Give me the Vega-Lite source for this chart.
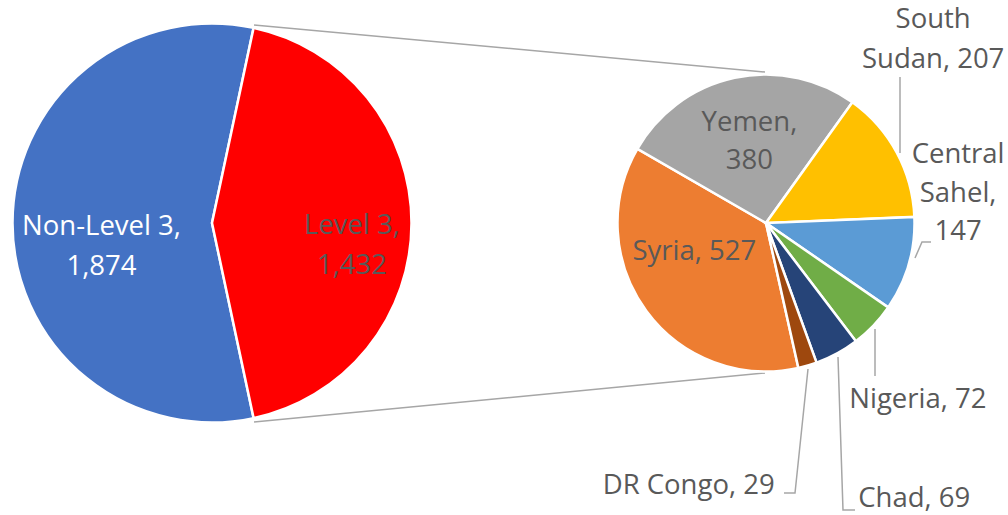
{
  "$schema": "https://vega.github.io/schema/vega-lite/v6.json",
  "width": 1008,
  "height": 515,
  "autosize": "none",
  "padding": 0,
  "config": {"view": {"stroke": null}},
  "data": {
    "values": [
      {"pie": "Total", "name": "Non-Level 3", "value": 1874, "label": "Non-Level 3,\n1,874"},
      {"pie": "Total", "name": "Level 3", "value": 1432, "label": "Level 3,\n1,432"},
      {"pie": "Level 3", "name": "Syria", "value": 527, "label": "Syria, 527"},
      {"pie": "Level 3", "name": "Yemen", "value": 380, "label": "Yemen,\n380"},
      {"pie": "Level 3", "name": "South Sudan", "value": 207, "label": "South\nSudan, 207"},
      {"pie": "Level 3", "name": "Central Sahel", "value": 147, "label": "Central\nSahel,\n147"},
      {"pie": "Level 3", "name": "Nigeria", "value": 72, "label": "Nigeria, 72"},
      {"pie": "Level 3", "name": "Chad", "value": 69, "label": "Chad, 69"},
      {"pie": "Level 3", "name": "DR Congo", "value": 29, "label": "DR Congo, 29"}
    ]
  },
  "resolve": {"scale": {"x": "independent", "y": "independent", "theta": "independent"}},
  "layer": [
    {
      "data": {
        "values": [
          {"seg": "connector top", "k": 1, "gx": 254, "gy": 25},
          {"seg": "connector top", "k": 2, "gx": 765, "gy": 72},
          {"seg": "connector bottom", "k": 1, "gx": 254, "gy": 422},
          {"seg": "connector bottom", "k": 2, "gx": 765, "gy": 373},
          {"seg": "South Sudan", "k": 1, "gx": 900, "gy": 153},
          {"seg": "South Sudan", "k": 2, "gx": 900, "gy": 77},
          {"seg": "Central Sahel", "k": 1, "gx": 915, "gy": 258},
          {"seg": "Central Sahel", "k": 2, "gx": 922, "gy": 242},
          {"seg": "Central Sahel", "k": 3, "gx": 931, "gy": 242},
          {"seg": "Nigeria", "k": 1, "gx": 875, "gy": 329},
          {"seg": "Nigeria", "k": 2, "gx": 875, "gy": 376},
          {"seg": "Chad", "k": 1, "gx": 838, "gy": 357},
          {"seg": "Chad", "k": 2, "gx": 843, "gy": 510},
          {"seg": "Chad", "k": 3, "gx": 855, "gy": 510},
          {"seg": "DR Congo", "k": 1, "gx": 808, "gy": 369},
          {"seg": "DR Congo", "k": 2, "gx": 795, "gy": 493},
          {"seg": "DR Congo", "k": 3, "gx": 784, "gy": 493}
        ]
      },
      "mark": {"type": "line", "stroke": "#A6A6A6", "strokeWidth": 1.5},
      "encoding": {
        "x": {"field": "gx", "type": "quantitative", "scale": {"domain": [0, 1008], "range": [0, 1008]}, "axis": null},
        "y": {"field": "gy", "type": "quantitative", "scale": {"domain": [0, 515], "range": [0, 515]}, "axis": null},
        "detail": {"field": "seg"},
        "order": {"field": "k"}
      }
    },
    {
      "transform": [{"filter": "datum.pie === 'Total'"}],
      "encoding": {
        "x": {"field": "pie", "type": "nominal", "scale": {"type": "point", "domain": ["Total", "Level 3"], "range": [212, 766], "padding": 0}, "axis": null},
        "y": {"field": "pie", "type": "nominal", "scale": {"type": "point", "domain": ["Total", "Level 3"], "range": [223, 223], "padding": 0}, "axis": null},
        "theta": {"field": "value", "type": "quantitative", "stack": true, "scale": {"range": [0.20996, 6.49315]}},
        "order": {"field": "value", "sort": "ascending"}
      },
      "layer": [
        {
          "mark": {"type": "arc", "radius": 199.5, "stroke": "white", "strokeWidth": 2.5},
          "encoding": {
            "color": {"field": "name", "type": "nominal", "legend": null,
              "scale": {"domain": ["Non-Level 3", "Level 3", "Syria", "Yemen", "South Sudan", "Central Sahel", "Nigeria", "Chad", "DR Congo"],
                        "range": ["#4472C4", "#FF0000", "#ED7D31", "#A5A5A5", "#FFC000", "#5B9BD5", "#70AD47", "#264478", "#9E480E"]}}
          }
        },
        {
          "mark": {"type": "text", "radius": 110.5, "dy": 3.5, "font": "Open Sans", "fontSize": 27.5, "lineHeight": 40, "lineBreak": "\n", "color": "#FFFFFF", "align": "center", "baseline": "middle"},
          "encoding": {
            "detail": {"field": "name"},
            "text": {"condition": {"test": "datum.name === 'Non-Level 3'", "field": "label", "type": "nominal"}, "value": ""}
          }
        },
        {
          "mark": {"type": "text", "radius": 140, "dy": 3.5, "font": "Open Sans", "fontSize": 27.5, "lineHeight": 40, "lineBreak": "\n", "color": "#595959", "align": "center", "baseline": "middle"},
          "encoding": {
            "detail": {"field": "name"},
            "text": {"condition": {"test": "datum.name === 'Level 3'", "field": "label", "type": "nominal"}, "value": ""}
          }
        }
      ]
    },
    {
      "transform": [{"filter": "datum.pie === 'Level 3'"}],
      "encoding": {
        "x": {"field": "pie", "type": "nominal", "scale": {"type": "point", "domain": ["Total", "Level 3"], "range": [212, 766], "padding": 0}, "axis": null},
        "y": {"field": "pie", "type": "nominal", "scale": {"type": "point", "domain": ["Total", "Level 3"], "range": [223, 223], "padding": 0}, "axis": null},
        "theta": {"field": "value", "type": "quantitative", "stack": true, "scale": {"range": [2.92168, 9.20487]}},
        "order": {"field": "value", "sort": "descending"}
      },
      "layer": [
        {
          "mark": {"type": "arc", "radius": 148.5, "stroke": "white", "strokeWidth": 2.5},
          "encoding": {
            "color": {"field": "name", "type": "nominal", "legend": null,
              "scale": {"domain": ["Non-Level 3", "Level 3", "Syria", "Yemen", "South Sudan", "Central Sahel", "Nigeria", "Chad", "DR Congo"],
                        "range": ["#4472C4", "#FF0000", "#ED7D31", "#A5A5A5", "#FFC000", "#5B9BD5", "#70AD47", "#264478", "#9E480E"]}}
          }
        },
        {
          "mark": {"type": "text", "radius": 83, "dx": 1, "dy": -19, "font": "Open Sans", "fontSize": 27.5, "lineHeight": 38, "lineBreak": "\n", "color": "#595959", "align": "center", "baseline": "middle"},
          "encoding": {"detail": {"field": "name"}, "text": {"condition": {"test": "datum.name === 'Yemen'", "field": "label", "type": "nominal"}, "value": ""}}
        },
        {
          "mark": {"type": "text", "radius": 89, "dy": -24, "font": "Open Sans", "fontSize": 27.5, "lineHeight": 39, "lineBreak": "\n", "color": "#595959", "align": "center", "baseline": "middle"},
          "encoding": {"detail": {"field": "name"}, "text": {"condition": {"test": "datum.name === 'Syria'", "field": "label", "type": "nominal"}, "value": ""}}
        },
        {
          "mark": {"type": "text", "radius": 190, "dy": -113, "font": "Open Sans", "fontSize": 27.5, "lineHeight": 40, "lineBreak": "\n", "color": "#595959", "align": "center", "baseline": "middle"},
          "encoding": {"detail": {"field": "name"}, "text": {"condition": {"test": "datum.name === 'South Sudan'", "field": "label", "type": "nominal"}, "value": ""}}
        },
        {
          "mark": {"type": "text", "radius": 200, "dy": -123.5, "font": "Open Sans", "fontSize": 27.5, "lineHeight": 38.5, "lineBreak": "\n", "color": "#595959", "align": "center", "baseline": "middle"},
          "encoding": {"detail": {"field": "name"}, "text": {"condition": {"test": "datum.name === 'Central Sahel'", "field": "label", "type": "nominal"}, "value": ""}}
        },
        {
          "mark": {"type": "text", "radius": 210, "dy": 32, "font": "Open Sans", "fontSize": 27.5, "lineHeight": 39, "lineBreak": "\n", "color": "#595959", "align": "center", "baseline": "middle"},
          "encoding": {"detail": {"field": "name"}, "text": {"condition": {"test": "datum.name === 'Nigeria'", "field": "label", "type": "nominal"}, "value": ""}}
        },
        {
          "mark": {"type": "text", "radius": 310, "dy": 4, "font": "Open Sans", "fontSize": 27.5, "lineHeight": 39, "lineBreak": "\n", "color": "#595959", "align": "center", "baseline": "middle"},
          "encoding": {"detail": {"field": "name"}, "text": {"condition": {"test": "datum.name === 'Chad'", "field": "label", "type": "nominal"}, "value": ""}}
        },
        {
          "mark": {"type": "text", "radius": 274, "dx": -154, "font": "Open Sans", "fontSize": 27.5, "lineHeight": 39, "lineBreak": "\n", "color": "#595959", "align": "center", "baseline": "middle"},
          "encoding": {"detail": {"field": "name"}, "text": {"condition": {"test": "datum.name === 'DR Congo'", "field": "label", "type": "nominal"}, "value": ""}}
        }
      ]
    }
  ]
}
